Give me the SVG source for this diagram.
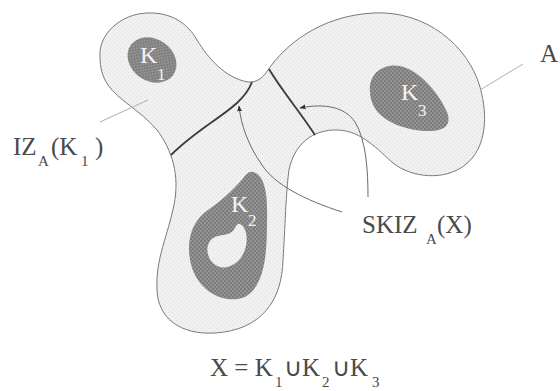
<svg xmlns="http://www.w3.org/2000/svg" width="560" height="391" viewBox="0 0 560 391">
<style>
.region{fill:url(#lt);stroke:#7a7a7a;stroke-width:1}
.grain{fill:url(#dk);stroke:none}
.skiz{fill:none;stroke:#3a3a3a;stroke-width:1.8}
.arrow{fill:none;stroke:#6a6a6a;stroke-width:1}
.ptr{fill:none;stroke:#b0b0b0;stroke-width:1}
.lbl{font-family:"Liberation Serif","Times New Roman",serif;font-size:25px;fill:#4a4a4a}
.sub{font-size:15px}
.klbl{font-family:"Liberation Serif","Times New Roman",serif;font-size:24px;fill:#f4f4f4}
</style>
<defs>
<pattern id="lt" width="4" height="4" patternUnits="userSpaceOnUse"><rect width="4" height="4" fill="#f1f1f1"/><rect width="1" height="1" fill="#dedede"/><rect x="2" y="2" width="1" height="1" fill="#dedede"/></pattern>
<pattern id="dk" width="4" height="4" patternUnits="userSpaceOnUse"><rect width="4" height="4" fill="#939393"/><rect width="2" height="2" fill="#7d7d7d"/><rect x="2" y="2" width="2" height="2" fill="#7d7d7d"/></pattern>
<marker id="ah" viewBox="0 0 10 10" refX="9" refY="5" markerWidth="6" markerHeight="6" orient="auto" markerUnits="userSpaceOnUse"><path d="M0,1 L10,5 L0,9 Z" fill="#333"/></marker>
</defs>
<rect width="560" height="391" fill="#fff"/>
<g id="A">
<path class="region" d="M100,57 C98,35 120,14 147,13 C172,12 188,24 197,40 C208,58 225,78 248,82 C258,83 264,76 268,70 C285,45 320,16 373,13 C425,10 468,45 480,87 C488,115 487,148 465,165 C445,181 412,178 393,163 C378,150 362,131 338,130 C312,129 294,145 289,170 C286,190 285,230 283,260 C282,300 262,330 215,333 C180,335 158,318 157,290 C155,260 168,235 174,205 C180,175 172,150 157,130 C140,110 118,100 108,85 C102,76 100,67 100,57 Z"/>
</g>
<g id="K1">
<ellipse class="grain" cx="152" cy="60" rx="26" ry="21" transform="rotate(35 152 60)"/>
<text class="klbl" x="140" y="63">K</text><text class="klbl" x="157" y="80" style="font-size:17px">1</text>
</g>
<g id="K2">
<path class="grain" fill-rule="evenodd" d="M253,172 C265,175 268,195 267,220 C267,250 266,285 245,297 C225,305 200,292 192,268 C185,245 190,222 208,210 C225,198 238,185 244,177 C247,173 250,171 253,172 Z M240,224 C248,228 249,245 242,256 C236,266 222,272 213,263 C205,255 206,243 213,238 C220,234 228,236 233,231 C236,227 237,223 240,224 Z"/>
<text class="klbl" x="231" y="212">K</text><text class="klbl" x="248" y="226" style="font-size:17px">2</text>
</g>
<g id="K3">
<path class="grain" d="M370,92 C368,72 385,63 400,66 C420,70 440,95 447,112 C452,125 445,132 425,131 C405,130 385,122 376,110 C372,104 370,98 370,92 Z"/>
<text class="klbl" x="401" y="100">K</text><text class="klbl" x="418" y="116" style="font-size:17px">3</text>
</g>
<g id="SKIZ-lines">
<path class="skiz" d="M252,82 C246,98 232,108 212,122 C195,134 182,144 171,155"/>
<path class="skiz" d="M269,69 C280,88 300,112 315,135"/>
</g>
<g id="connectors">
<path class="arrow" marker-end="url(#ah)" d="M342,212 C305,200 275,185 262,165 C248,145 241,125 239,106"/>
<path class="arrow" marker-end="url(#ah)" d="M368,197 C368,170 366,140 355,122 C345,107 325,103 300,108"/>
<path class="ptr" d="M100,122 L148,100"/>
<path class="ptr" d="M480,90 L523,64"/>
</g>
<g id="label-IZ">
<text class="lbl" x="13" y="155">IZ<tspan class="sub" x="38" y="166">A</tspan><tspan x="51" y="155">(K</tspan><tspan class="sub" x="81" y="166">1</tspan><tspan x="95" y="155">)</tspan></text>
</g>
<g id="label-SKIZ">
<text class="lbl" x="362" y="233">SKIZ<tspan class="sub" x="426" y="244">A</tspan><tspan x="437" y="233">(X)</tspan></text>
</g>
<g id="label-A">
<text class="lbl" x="540" y="62">A</text>
</g>
<g id="label-X">
<text class="lbl" x="210" y="376">X = K<tspan class="sub" x="275" y="387">1</tspan><tspan x="284" y="376">∪K</tspan><tspan class="sub" x="322" y="387">2</tspan><tspan x="332" y="376">∪K</tspan><tspan class="sub" x="372" y="387">3</tspan></text>
</g>
</svg>
